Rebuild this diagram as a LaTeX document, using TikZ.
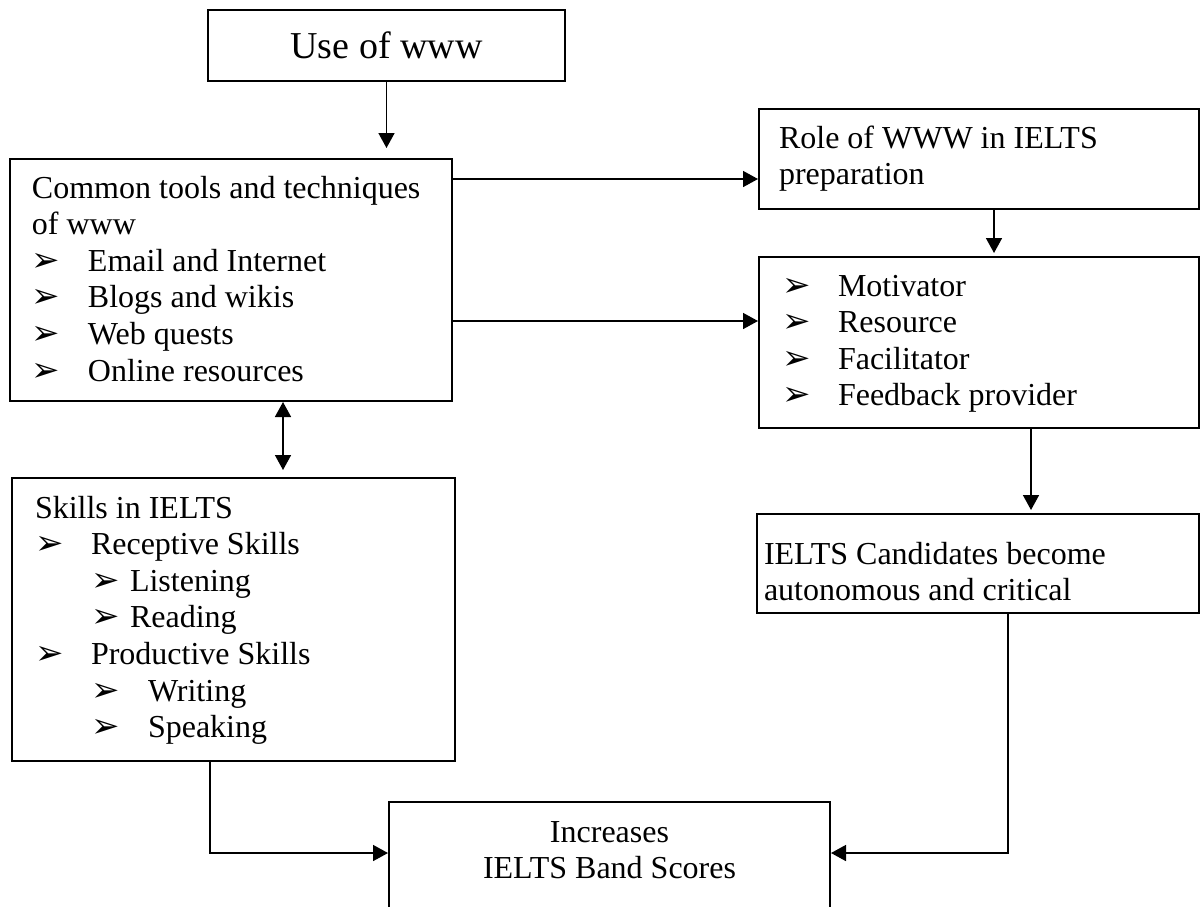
\documentclass[tikz,border=0pt]{standalone}
\usepackage{fontspec}
\setmainfont{Liberation Serif}
\newfontfamily\dingfont{DejaVu Sans}
\usetikzlibrary{arrows.meta,calc}
\newcommand{\bul}{{\dingfont\fontsize{17pt}{18.3pt}\selectfont ➢}}
\newcommand{\bitem}[1]{\makebox[28pt][l]{\bul}#1}
\newcommand{\bsub}[2]{\hspace*{28pt}\makebox[#1][l]{\bul}#2}

\begin{document}
\begin{tikzpicture}[x=0.5pt,y=-0.5pt,line width=1pt,
  box/.style={draw,inner sep=0pt,anchor=north west,font=\fontsize{16pt}{18.3pt}\selectfont},
  arr/.style={-{Triangle[length=7.5pt,width=8pt]},line width=0.8pt},
  dblarr/.style={{Triangle[length=7.5pt,width=8pt]}-{Triangle[length=7.5pt,width=8pt]},line width=0.8pt}]
\useasboundingbox (0,0) rectangle (1203,906);
\clip (0,0) rectangle (1203,906);
\node[box] (use) at (207,9) {\parbox[c][35.5pt]{178.5pt}{\centering\fontsize{19pt}{22pt}\selectfont Use of www}};
\node[box] (common) at (9,158) {\parbox[c][121pt][t]{221pt}{\leftskip=11pt\rule{0pt}{19.5pt}Common tools and techniques\\
  of www\\
  \bitem{Email and Internet}\\
  \bitem{Blogs and wikis}\\
  \bitem{Web quests}\\
  \bitem{Online resources}}};
\node[box] (role) at (758,108) {\parbox[c][50pt][t]{220pt}{\leftskip=10pt\rule{0pt}{19.5pt}Role of WWW in IELTS\\
  preparation}};
\node[box] (tips) at (758,256) {\parbox[c][85.5pt][t]{220pt}{\leftskip=11.5pt\rule{0pt}{19.5pt}\bitem{Motivator}\\
  \bitem{Resource}\\
  \bitem{Facilitator}\\
  \bitem{Feedback provider}}};
\node[box] (skills) at (11,477) {\parbox[c][141.5pt][t]{221.5pt}{\leftskip=11.5pt\rule{0pt}{20pt}Skills in IELTS\\
  \bitem{Receptive Skills}\\
  \bsub{19.5pt}{Listening}\\
  \bsub{19.5pt}{Reading}\\
  \bitem{Productive Skills}\\
  \bsub{28.5pt}{Writing}\\
  \bsub{28.5pt}{Speaking}}};
\node[box] (cand) at (756,513) {\parbox[c][49.5pt][t]{221pt}{\leftskip=3.5pt\rule{0pt}{25pt}IELTS Candidates become\\
  autonomous and critical}};
\node[box] (band) at (388,801) {\parbox[c][62.5pt][t]{220.5pt}{\centering\rule{0pt}{20pt}Increases\\
  IELTS Band Scores}};

\coordinate (p1) at ($(common.north east)+(0,21)$);
\coordinate (p2) at ($(common.north east)+(0,163)$);
\coordinate (q1) at ($(common.south)+(52,0)$);
\coordinate (r1) at ($(role.south)+(15,0)$);
\coordinate (t1) at ($(tips.south)+(52,0)$);
\coordinate (s1) at ($(skills.south)+(-23.5,0)$);
\coordinate (c1) at ($(cand.south)+(30,0)$);
\coordinate (b1) at ($(band.north west)+(0,52)$);
\coordinate (b2) at ($(band.north east)+(0,52)$);

\draw[arr,shorten >=5pt] (use.south) -- (use.south |- common.north);
\draw[arr] (p1) -- (p1 -| role.west);
\draw[arr] (p2) -- (p2 -| tips.west);
\draw[arr,shorten >=1.5pt] (r1) -- (r1 |- tips.north);
\draw[dblarr,shorten >=3.5pt] (q1) -- (q1 |- skills.north);
\draw[arr,shorten >=1.5pt] (t1) -- (t1 |- cand.north);
\draw[arr] (s1) |- (b1);
\draw[arr] (c1) |- (b2);
\end{tikzpicture}
\end{document}
